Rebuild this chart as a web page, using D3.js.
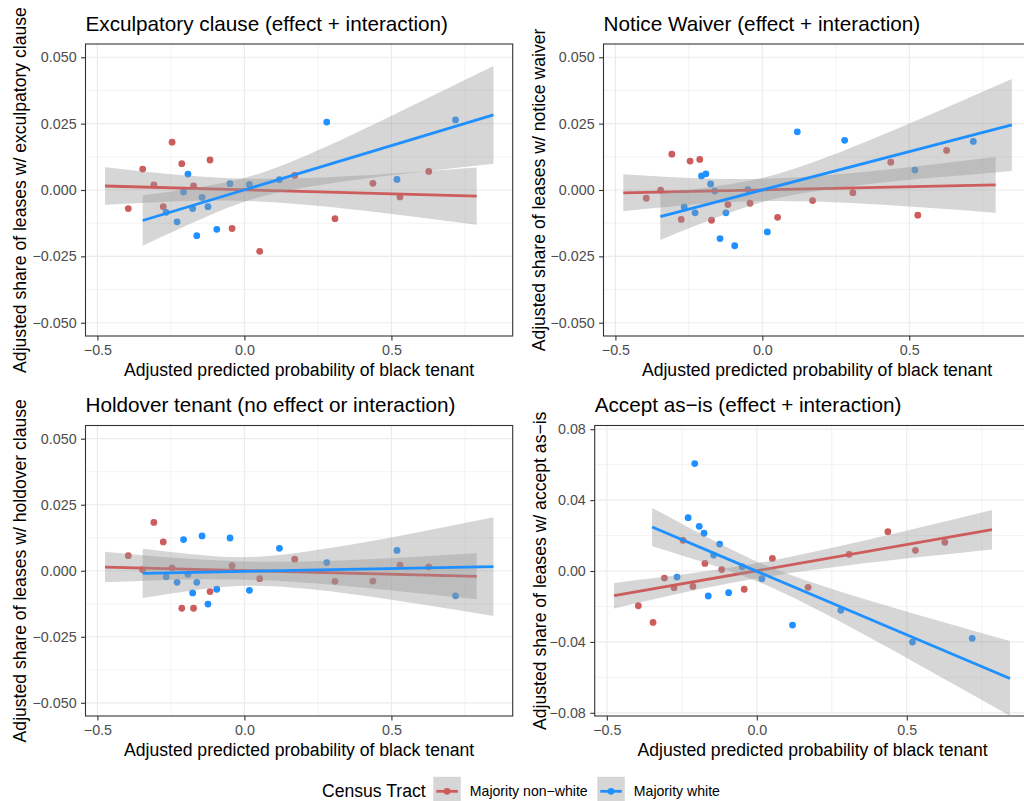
<!DOCTYPE html>
<html><head><meta charset="utf-8">
<script src="https://cdn.jsdelivr.net/npm/d3@7"></script>
<style>body{margin:0;background:#fff} svg{display:block;font-family:"Liberation Sans",Arial,sans-serif}</style>
</head><body><svg id="c" width="1024" height="801"></svg>
<script>
// ---------- data ----------
const xTickValues = [-0.5, 0, 0.5];
const xTickLabels = ["\u22120.5", "0.0", "0.5"];
const yTickValuesA = [-0.05, -0.025, 0, 0.025, 0.05];
const yTickLabelsA = ["\u22120.050", "\u22120.025", "0.000", "0.025", "0.050"];
const yTickValuesB = [-0.08, -0.04, 0, 0.04, 0.08];
const yTickLabelsB = ["\u22120.08", "\u22120.04", "0.00", "0.04", "0.08"];

const seriesNames = ["Majority non\u2212white", "Majority white"];
const panelTitles = ["Exculpatory clause (effect + interaction)", "Notice Waiver (effect + interaction)",
  "Holdover tenant (no effect or interaction)", "Accept as\u2212is (effect + interaction)"];
const yTitles = ["Adjusted share of leases w/ exculpatory clause", "Adjusted share of leases w/ notice waiver",
  "Adjusted share of leases w/ holdover clause", "Adjusted share of leases w/ accept as\u2212is"];
const xTitle = "Adjusted predicted probability of black tenant";

// binned points: x positions (shared), y per panel
const nonwhiteX = [-0.395, -0.346, -0.308, -0.276, -0.246, -0.213, -0.173, -0.117, -0.042, 0.052, 0.171, 0.308, 0.437, 0.529, 0.627];
const whiteX = [-0.266, -0.229, -0.207, -0.192, -0.176, -0.162, -0.144, -0.124, -0.094, -0.049, 0.017, 0.119, 0.280, 0.519, 0.718];

const excNonwhiteY = [-0.0070, 0.0079, 0.0019, -0.0063, 0.0180, 0.0099, 0.0015, 0.0113, -0.0145, -0.0231, 0.0055, -0.0108, 0.0025, -0.0026, 0.0070];
const excWhiteY = [-0.0084, -0.0120, -0.0008, 0.0060, -0.0070, -0.0172, -0.0028, -0.0063, -0.0148, 0.0024, 0.0021, 0.0039, 0.0256, 0.0040, 0.0264];
const notNonwhiteY = [-0.0031, -0.0001, 0.0135, -0.0111, 0.0109, 0.0115, -0.0114, -0.0055, -0.0050, -0.0103, -0.0040, -0.0010, 0.0105, -0.0095, 0.0149];
const notWhiteY = [-0.0064, -0.0086, 0.0053, 0.0061, 0.0023, -0.0004, -0.0183, -0.0086, -0.0210, 0.0001, -0.0158, 0.0219, 0.0187, 0.0075, 0.0183];
const holNonwhiteY = [0.0057, 0.0004, 0.0183, 0.0109, 0.0011, -0.0142, -0.0142, -0.0079, 0.0019, -0.0030, 0.0044, -0.0040, -0.0039, 0.0021, 0.0015];
const holWhiteY = [-0.0023, -0.0044, 0.0118, -0.0013, -0.0084, -0.0044, 0.0132, -0.0126, -0.0070, 0.0124, -0.0074, 0.0085, 0.0031, 0.0077, -0.0095];
const accNonwhiteY = [-0.0196, -0.0290, -0.0040, -0.0094, 0.0173, -0.0087, 0.0043, 0.0008, -0.0103, 0.0071, -0.0092, 0.0094, 0.0222, 0.0117, 0.0162];
const accWhiteY = [-0.0034, 0.0301, 0.0606, 0.0252, 0.0213, -0.0141, 0.0090, 0.0152, -0.0122, 0.0024, -0.0043, -0.0305, -0.0222, -0.0401, -0.0380];

// linear fits: endpoints, and confidence band read at a few x positions
const excNonwhiteFitX = [-0.474, 0.79], excNonwhiteFitY = [0.0015, -0.0023];
const excNonwhiteBandX = [-0.474, -0.2, 0.05, 0.3, 0.55, 0.79];
const excNonwhiteLo = [-0.0056, -0.0041, -0.0043, -0.0065, -0.0097, -0.0131];
const excNonwhiteHi = [0.0086, 0.0055, 0.0042, 0.0049, 0.0066, 0.0085];
const excWhiteFitX = [-0.346, 0.847], excWhiteFitY = [-0.0115, 0.0283];
const excWhiteBandX = [-0.346, -0.1, 0.1, 0.35, 0.6, 0.847];
const excWhiteLo = [-0.0210, -0.0087, -0.0013, 0.0034, 0.0069, 0.0099];
const excWhiteHi = [-0.0020, 0.0021, 0.0081, 0.0200, 0.0333, 0.0467];

const notNonwhiteFitX = [-0.473, 0.794], notNonwhiteFitY = [-0.0011, 0.0019];
const notNonwhiteBandX = [-0.473, -0.2, 0.05, 0.3, 0.55, 0.794];
const notNonwhiteLo = [-0.0080, -0.0052, -0.0041, -0.0049, -0.0066, -0.0086];
const notNonwhiteHi = [0.0059, 0.0043, 0.0044, 0.0063, 0.0092, 0.0124];
const notWhiteFitX = [-0.347, 0.849], notWhiteFitY = [-0.0100, 0.0245];
const notWhiteBandX = [-0.347, -0.1, 0.1, 0.35, 0.6, 0.849];
const notWhiteLo = [-0.0188, -0.0081, -0.0020, 0.0021, 0.0048, 0.0072];
const notWhiteHi = [-0.0012, 0.0024, 0.0077, 0.0181, 0.0298, 0.0418];

const holNonwhiteFitX = [-0.474, 0.79], holNonwhiteFitY = [0.0014, -0.0021];
const holNonwhiteBandX = [-0.474, -0.2, 0.05, 0.3, 0.55, 0.79];
const holNonwhiteLo = [-0.0044, -0.0033, -0.0035, -0.0053, -0.0080, -0.0108];
const holNonwhiteHi = [0.0072, 0.0046, 0.0034, 0.0038, 0.0051, 0.0066];
const holWhiteFitX = [-0.346, 0.847], holWhiteFitY = [-0.0010, 0.0016];
const holWhiteBandX = [-0.346, -0.1, 0.1, 0.35, 0.6, 0.847];
const holWhiteLo = [-0.0103, -0.0064, -0.0059, -0.0086, -0.0127, -0.0171];
const holWhiteHi = [0.0083, 0.0055, 0.0058, 0.0097, 0.0148, 0.0203];

const accNonwhiteFitX = [-0.476, 0.784], accNonwhiteFitY = [-0.0139, 0.0233];
const accNonwhiteBandX = [-0.476, -0.2, 0.05, 0.3, 0.55, 0.784];
const accNonwhiteLo = [-0.0211, -0.0106, -0.0028, 0.0031, 0.0080, 0.0122];
const accNonwhiteHi = [-0.0067, -0.0009, 0.0060, 0.0149, 0.0248, 0.0344];
const accWhiteFitX = [-0.349, 0.844], accWhiteFitY = [0.0248, -0.0606];
const accWhiteBandX = [-0.349, -0.1, 0.1, 0.35, 0.6, 0.844];
const accWhiteLo = [0.0140, 0.0006, -0.0133, -0.0351, -0.0585, -0.0817];
const accWhiteHi = [0.0356, 0.0134, -0.0014, -0.0154, -0.0278, -0.0395];

// ---------- styling / layout ----------
const colors = ["#cd5c5c", "#1e90ff"];
const xDomain = [-0.5405, 0.9125];
const FONT = '"Liberation Sans",Arial,sans-serif';

function grp(px, py, fx, fy, bx, lo, hi) {
  return {pts: px.map((x, i) => ({x, y: py[i]})), fit: fx.map((x, i) => ({x, y: fy[i]})),
          band: bx.map((x, i) => ({x, lo: lo[i], hi: hi[i]}))};
}

const panels = [
  {rect: {l: 85.5, r: 512.7, t: 44, b: 336}, yDomain: [-0.055, 0.055], yt: yTickValuesA, yl: yTickLabelsA, ytX: 20,
   groups: [grp(nonwhiteX, excNonwhiteY, excNonwhiteFitX, excNonwhiteFitY, excNonwhiteBandX, excNonwhiteLo, excNonwhiteHi),
            grp(whiteX, excWhiteY, excWhiteFitX, excWhiteFitY, excWhiteBandX, excWhiteLo, excWhiteHi)]},
  {rect: {l: 603.5, r: 1030.5, t: 44, b: 336}, yDomain: [-0.055, 0.055], yt: yTickValuesA, yl: yTickLabelsA, ytX: 539,
   groups: [grp(nonwhiteX, notNonwhiteY, notNonwhiteFitX, notNonwhiteFitY, notNonwhiteBandX, notNonwhiteLo, notNonwhiteHi),
            grp(whiteX, notWhiteY, notWhiteFitX, notWhiteFitY, notWhiteBandX, notWhiteLo, notWhiteHi)]},
  {rect: {l: 85.5, r: 512.7, t: 425.5, b: 716}, yDomain: [-0.055, 0.055], yt: yTickValuesA, yl: yTickLabelsA, ytX: 20,
   groups: [grp(nonwhiteX, holNonwhiteY, holNonwhiteFitX, holNonwhiteFitY, holNonwhiteBandX, holNonwhiteLo, holNonwhiteHi),
            grp(whiteX, holWhiteY, holWhiteFitX, holWhiteFitY, holWhiteBandX, holWhiteLo, holWhiteHi)]},
  {rect: {l: 594.7, r: 1030.5, t: 425.5, b: 716}, yDomain: [-0.0818, 0.0821], yt: yTickValuesB, yl: yTickLabelsB, ytX: 540,
   groups: [grp(nonwhiteX, accNonwhiteY, accNonwhiteFitX, accNonwhiteFitY, accNonwhiteBandX, accNonwhiteLo, accNonwhiteHi),
            grp(whiteX, accWhiteY, accWhiteFitX, accWhiteFitY, accWhiteBandX, accWhiteLo, accWhiteHi)]}
];

const svg = d3.select("#c");
svg.append("rect").attr("width", 1024).attr("height", 801).attr("fill", "#fff");

panels.forEach((p, pi) => {
  const R = p.rect;
  const x = d3.scaleLinear().domain(xDomain).range([R.l, R.r]);
  const y = d3.scaleLinear().domain(p.yDomain).range([R.b, R.t]);
  const g = svg.append("g");
  const clipId = "clip" + pi;
  g.append("clipPath").attr("id", clipId).append("rect")
    .attr("x", R.l).attr("y", R.t).attr("width", R.r - R.l).attr("height", R.b - R.t);

  // grid
  const xMinor = [-0.25, 0.25, 0.75];
  const yMinor = d3.pairs(p.yt).map(([a, b]) => (a + b) / 2);
  const grid = g.append("g");
  xMinor.forEach(v => grid.append("line").attr("x1", x(v)).attr("x2", x(v)).attr("y1", R.t).attr("y2", R.b)
    .attr("stroke", "#ebebeb").attr("stroke-width", 0.6));
  yMinor.forEach(v => grid.append("line").attr("y1", y(v)).attr("y2", y(v)).attr("x1", R.l).attr("x2", R.r)
    .attr("stroke", "#ebebeb").attr("stroke-width", 0.6));
  xTickValues.forEach(v => grid.append("line").attr("x1", x(v)).attr("x2", x(v)).attr("y1", R.t).attr("y2", R.b)
    .attr("stroke", "#ebebeb").attr("stroke-width", 1.2));
  p.yt.forEach(v => grid.append("line").attr("y1", y(v)).attr("y2", y(v)).attr("x1", R.l).attr("x2", R.r)
    .attr("stroke", "#ebebeb").attr("stroke-width", 1.2));

  const body = g.append("g").attr("clip-path", `url(#${clipId})`);
  // points
  p.groups.forEach((gr, gi) => {
    body.append("g").selectAll("circle").data(gr.pts).join("circle")
      .attr("cx", d => x(d.x)).attr("cy", d => y(d.y)).attr("r", 3.4).attr("fill", colors[gi]);
  });
  // smooths
  const area = d3.area().x(d => x(d.x)).y0(d => y(d.lo)).y1(d => y(d.hi)).curve(d3.curveNatural);
  const line = d3.line().x(d => x(d.x)).y(d => y(d.y));
  p.groups.forEach((gr, gi) => {
    body.append("path").attr("d", area(gr.band)).attr("fill", "#999999").attr("fill-opacity", 0.4);
    body.append("path").attr("d", line(gr.fit)).attr("fill", "none").attr("stroke", colors[gi]).attr("stroke-width", 2.8);
  });

  // border
  g.append("rect").attr("x", R.l).attr("y", R.t).attr("width", R.r - R.l).attr("height", R.b - R.t)
    .attr("fill", "none").attr("stroke", "#333333").attr("stroke-width", 1.1);

  // axes
  const xa = d3.axisBottom(x).tickValues(xTickValues).tickFormat((d, i) => xTickLabels[i]).tickSize(4.4).tickPadding(4);
  const ya = d3.axisLeft(y).tickValues(p.yt).tickFormat((d, i) => p.yl[i]).tickSize(4.4).tickPadding(4.5);
  const gx = g.append("g").attr("transform", `translate(0,${R.b})`).call(xa);
  const gy = g.append("g").attr("transform", `translate(${R.l},0)`).call(ya);
  [gx, gy].forEach(a => {
    a.select(".domain").remove();
    a.selectAll(".tick line").attr("stroke", "#333333").attr("stroke-width", 1.1);
    a.selectAll(".tick text").attr("fill", "#4d4d4d").style("font-size", "14.3px").style("font-family", FONT);
  });

  // titles
  g.append("text").attr("x", R.l).attr("y", R.t - 21).attr("dominant-baseline", "central")
    .style("font-size", "20.7px").attr("fill", "#000").text(panelTitles[pi]);
  g.append("text").attr("x", (R.l + R.r) / 2).attr("y", R.b + 33.5).attr("text-anchor", "middle")
    .attr("dominant-baseline", "central").style("font-size", "17.6px").attr("fill", "#000").text(xTitle);
  g.append("text").attr("transform", `translate(${p.ytX},${(R.t + R.b) / 2}) rotate(-90)`).attr("text-anchor", "middle")
    .attr("dominant-baseline", "central").style("font-size", "17.6px").attr("fill", "#000").text(yTitles[pi]);
});

// legend
const lg = svg.append("g");
const ly = 791.3;
lg.append("text").attr("x", 322).attr("y", ly).attr("dominant-baseline", "central")
  .style("font-size", "17.6px").attr("fill", "#000").text("Census Tract");
const keyX = [433.3, 597.3];
seriesNames.forEach((name, i) => {
  const kx = keyX[i];
  lg.append("rect").attr("x", kx).attr("y", ly - 14.5).attr("width", 27.5).attr("height", 29)
    .attr("fill", "#999999").attr("fill-opacity", 0.4);
  lg.append("line").attr("x1", kx + 3).attr("x2", kx + 24.5).attr("y1", ly).attr("y2", ly)
    .attr("stroke", colors[i]).attr("stroke-width", 2.8);
  lg.append("circle").attr("cx", kx + 13.75).attr("cy", ly).attr("r", 3.4).attr("fill", colors[i]);
  lg.append("text").attr("x", kx + 36.5).attr("y", ly).attr("dominant-baseline", "central")
    .style("font-size", "14.1px").attr("fill", "#000").text(name);
});
</script></body></html>
